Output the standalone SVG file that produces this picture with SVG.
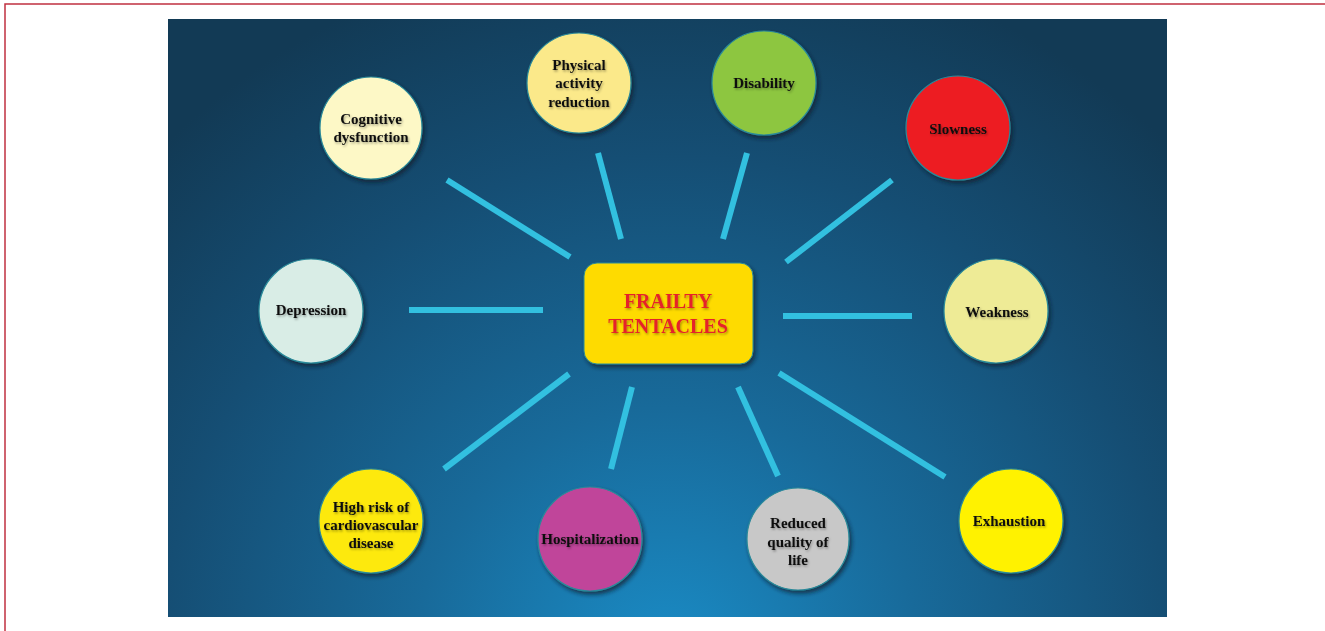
<svg xmlns="http://www.w3.org/2000/svg" width="1325" height="631" viewBox="0 0 1325 631">
<defs>
<radialGradient id="bg" cx="667" cy="660" r="720" gradientUnits="userSpaceOnUse">
<stop offset="0" stop-color="#1a8cc6"/>
<stop offset="0.35" stop-color="#186a9a"/>
<stop offset="0.7" stop-color="#154e74"/>
<stop offset="1" stop-color="#123a55"/>
</radialGradient>
<filter id="sh" x="-20%" y="-20%" width="150%" height="150%">
<feDropShadow dx="2" dy="3" stdDeviation="2" flood-color="#081c2a" flood-opacity="0.7"/>
</filter>
<filter id="ts" x="-10%" y="-30%" width="120%" height="160%">
<feDropShadow dx="1" dy="1.5" stdDeviation="1.2" flood-color="#000" flood-opacity="0.35"/>
</filter>
<style>
.n{stroke:#2a8a9a;stroke-width:1.2;filter:url(#sh)}
.t{font-family:"Liberation Serif","Times New Roman",serif;font-weight:bold;font-size:15px;fill:#111;text-anchor:middle;filter:url(#ts)}
.c{stroke:#32c0e0;stroke-width:6;stroke-linecap:butt}
.h{font-family:"Liberation Serif","Times New Roman",serif;font-weight:bold;font-size:20px;fill:#e5232a;text-anchor:middle;filter:url(#ts)}
</style>
</defs>
<rect x="5" y="4" width="1340" height="650" fill="#fff" stroke="#c03040" stroke-width="1.5"/>
<rect x="168" y="19" width="999" height="598" fill="url(#bg)"/>
<g id="connectors">
<line class="c" x1="447" y1="180" x2="570" y2="257"/>
<line class="c" x1="598" y1="153" x2="621" y2="239"/>
<line class="c" x1="747" y1="153" x2="723" y2="239"/>
<line class="c" x1="892" y1="180" x2="786" y2="262"/>
<line class="c" x1="409" y1="310" x2="543" y2="310"/>
<line class="c" x1="783" y1="316" x2="912" y2="316"/>
<line class="c" x1="569" y1="374" x2="444" y2="469"/>
<line class="c" x1="632" y1="387" x2="611" y2="469"/>
<line class="c" x1="738" y1="387" x2="778" y2="476"/>
<line class="c" x1="779" y1="373" x2="945" y2="477"/>
</g>
<g id="center">
<rect x="584" y="263" width="169" height="101" rx="13" fill="#fedb00" stroke="#2a8a9a" stroke-width="1" filter="url(#sh)"/>
<text class="h" x="668" y="308">FRAILTY</text>
<text class="h" x="668" y="333">TENTACLES</text>
</g>
<g id="cognitive">
<circle class="n" cx="371" cy="128" r="51" fill="#fdf8c6"/>
<text class="t" x="371" y="124">Cognitive</text>
<text class="t" x="371" y="142">dysfunction</text>
</g>
<g id="physical">
<ellipse class="n" cx="579" cy="83" rx="52" ry="50" fill="#fbe98a"/>
<text class="t" x="579" y="70">Physical</text>
<text class="t" x="579" y="88">activity</text>
<text class="t" x="579" y="107">reduction</text>
</g>
<g id="disability">
<circle class="n" cx="764" cy="83" r="52" fill="#8dc641"/>
<text class="t" x="764" y="88">Disability</text>
</g>
<g id="slowness">
<circle class="n" cx="958" cy="128" r="52" fill="#ed1c24"/>
<text class="t" x="958" y="134">Slowness</text>
</g>
<g id="depression">
<circle class="n" cx="311" cy="311" r="52" fill="#d9ede6"/>
<text class="t" x="311" y="315">Depression</text>
</g>
<g id="weakness">
<circle class="n" cx="996" cy="311" r="52" fill="#eeeb96"/>
<text class="t" x="997" y="317">Weakness</text>
</g>
<g id="highrisk">
<circle class="n" cx="371" cy="521" r="52" fill="#fde910"/>
<text class="t" x="371" y="512">High risk of</text>
<text class="t" x="371" y="530">cardiovascular</text>
<text class="t" x="371" y="548">disease</text>
</g>
<g id="hospitalization">
<circle class="n" cx="590" cy="539" r="52" fill="#c0449a"/>
<text class="t" x="590" y="544">Hospitalization</text>
</g>
<g id="reduced">
<circle class="n" cx="798" cy="539" r="51" fill="#c8c8c8"/>
<text class="t" x="798" y="528">Reduced</text>
<text class="t" x="798" y="547">quality of</text>
<text class="t" x="798" y="565">life</text>
</g>
<g id="exhaustion">
<circle class="n" cx="1011" cy="521" r="52" fill="#fff200"/>
<text class="t" x="1009" y="526">Exhaustion</text>
</g>
</svg>
